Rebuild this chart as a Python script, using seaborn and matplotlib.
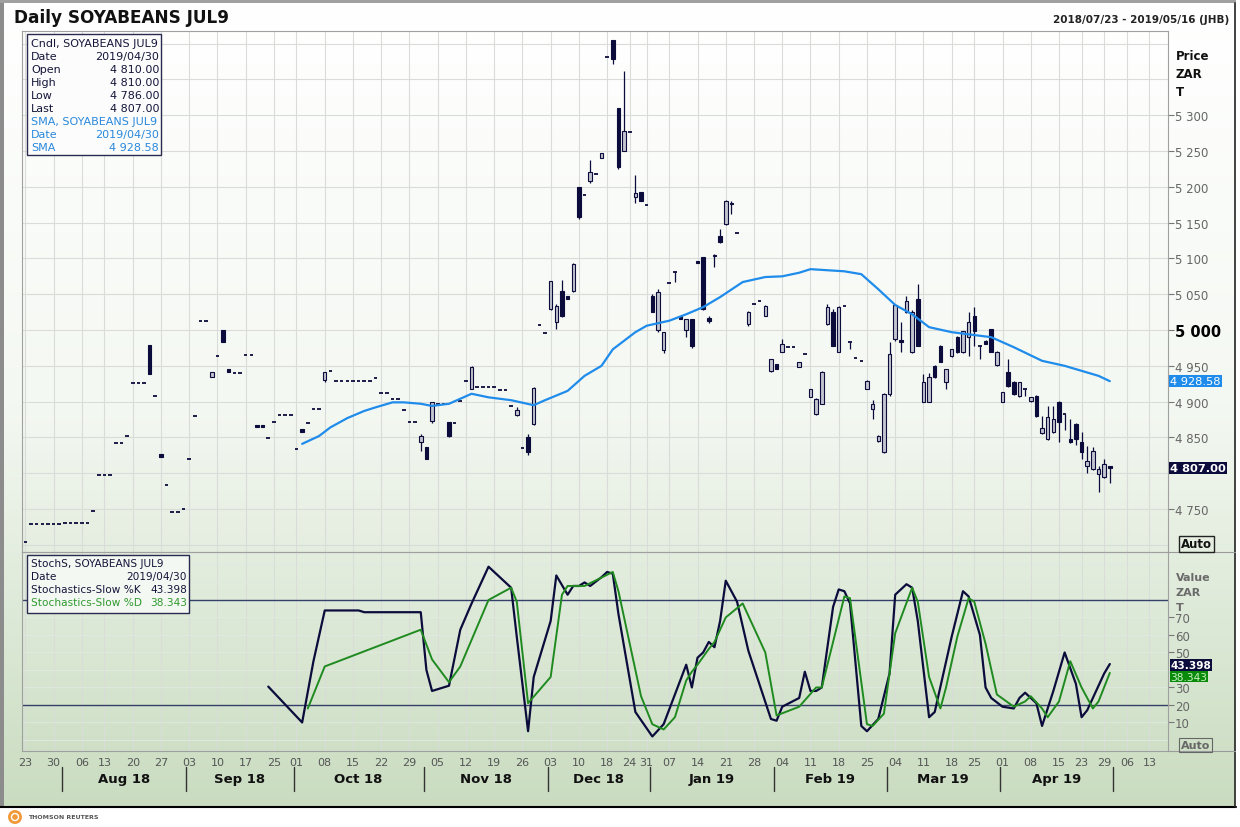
# Daily SOYABEANS JUL9 - candles, SMA and slow stochastics

import numpy as np
import pandas as pd
import matplotlib
matplotlib.use("Agg")
import matplotlib.pyplot as plt
import matplotlib.transforms as mtrans
from matplotlib.colors import LinearSegmentedColormap
from matplotlib.patches import Rectangle, Circle
import seaborn as sns

# TRADING CALENDAR (JSE)

holidays = ["2018-08-09", "2018-09-24", "2018-12-17", "2018-12-25", "2018-12-26",
            "2019-01-01", "2019-03-21", "2019-04-19", "2019-04-22", "2019-05-01",
            "2019-05-08"]
days = pd.bdate_range("2018-07-23", "2019-05-16")
days = days[~days.isin(pd.to_datetime(holidays))]

# DATA (trading-day index, no trade on day 127)

cndl_day = list(range(0, 127)) + list(range(128, 193))

cndl_open = [
    4704, 4729, 4729, 4729, 4729, 4729, 4729, 4731, 4731, 4731,
    4731, 4731, 4747, 4797, 4797, 4797, 4842, 4842, 4852, 4926,
    4926, 4926, 4979, 4908, 4827, 4783, 4746, 4746, 4750, 4820,
    4880, 5012, 5012, 4934, 4964, 5000, 4946, 4940, 4940, 4965,
    4965, 4868, 4868, 4849, 4871, 4881, 4881, 4881, 4834, 4862,
    4870, 4890, 4890, 4930, 4943, 4929, 4929, 4929, 4929, 4929,
    4929, 4929, 4933, 4912, 4912, 4904, 4904, 4888, 4871, 4871,
    4844, 4837, 4873, 4897, 4897, 4872, 4870, 4901, 4929, 4918,
    4920, 4920, 4920, 4920, 4916, 4916, 4894, 4881, 4835, 4851,
    4869, 5007, 4996, 5029, 5011, 5055, 5048, 5054, 5200, 5189,
    5208, 5218, 5240, 5381, 5405, 5310, 5250, 5277, 5186, 5193,
    5175, 5048, 5000, 4972, 5066, 5081, 5020, 5000, 5015, 5097,
    5102, 5017, 5105, 5131, 5148, 5178, 5135,
    5008, 5036, 5040, 5020, 4943, 4952, 4970, 4976, 4976, 4948,
    4966, 4907, 4883, 4897, 5008, 5025, 4970, 5034, 4983, 4961,
    4957, 4918, 4890, 4845, 4830, 4910, 4987, 4986, 5025, 4970,
    5043, 4900, 4900, 4950, 4978, 4927, 4964, 4990, 4969, 4990,
    5020, 4978, 4984, 5001, 4951, 4900, 4941, 4928, 4908, 4917,
    4901, 4908, 4856, 4848, 4858, 4900, 4883, 4848, 4869, 4843,
    4810, 4806, 4799, 4795, 4810]

cndl_high = [
    4704, 4729, 4729, 4729, 4729, 4729, 4729, 4731, 4731, 4731,
    4731, 4731, 4747, 4797, 4797, 4797, 4842, 4842, 4852, 4926,
    4926, 4926, 4979, 4908, 4827, 4783, 4746, 4746, 4750, 4820,
    4880, 5012, 5012, 4942, 4964, 5000, 4946, 4940, 4940, 4965,
    4965, 4868, 4868, 4849, 4871, 4881, 4881, 4881, 4834, 4862,
    4870, 4890, 4890, 4942, 4943, 4929, 4929, 4929, 4929, 4929,
    4929, 4929, 4933, 4912, 4912, 4904, 4904, 4888, 4871, 4871,
    4855, 4837, 4900, 4897, 4897, 4872, 4870, 4901, 4929, 4950,
    4920, 4920, 4920, 4920, 4916, 4916, 4894, 4892, 4835, 4855,
    4920, 5007, 4996, 5068, 5036, 5070, 5048, 5093, 5200, 5189,
    5238, 5218, 5247, 5381, 5405, 5310, 5362, 5277, 5217, 5193,
    5175, 5050, 5057, 4997, 5066, 5081, 5020, 5016, 5016, 5097,
    5102, 5020, 5106, 5141, 5182, 5180, 5135,
    5026, 5036, 5040, 5035, 4960, 4952, 4988, 4976, 4976, 4955,
    4966, 4918, 4905, 4943, 5036, 5030, 5034, 5034, 4983, 4961,
    4957, 4930, 4902, 4854, 4912, 4983, 5037, 5011, 5047, 5028,
    5064, 4938, 4940, 4951, 4979, 4946, 4974, 4991, 4999, 5025,
    5032, 4978, 4986, 5002, 4971, 4914, 4960, 4929, 4928, 4917,
    4907, 4909, 4880, 4894, 4894, 4901, 4883, 4876, 4870, 4858,
    4838, 4836, 4810, 4820, 4810]

cndl_low = [
    4704, 4729, 4729, 4729, 4729, 4729, 4729, 4731, 4731, 4731,
    4731, 4731, 4747, 4797, 4797, 4797, 4842, 4842, 4852, 4926,
    4926, 4926, 4939, 4908, 4822, 4783, 4746, 4746, 4750, 4820,
    4880, 5012, 5012, 4934, 4964, 4983, 4941, 4940, 4940, 4965,
    4965, 4864, 4864, 4849, 4871, 4881, 4881, 4881, 4834, 4858,
    4870, 4890, 4890, 4927, 4943, 4929, 4929, 4929, 4929, 4929,
    4929, 4929, 4933, 4912, 4912, 4904, 4904, 4888, 4871, 4871,
    4831, 4820, 4870, 4897, 4897, 4850, 4870, 4901, 4929, 4917,
    4920, 4920, 4920, 4920, 4916, 4916, 4894, 4880, 4835, 4826,
    4868, 5007, 4996, 5028, 5002, 5018, 5044, 5053, 5155, 5189,
    5206, 5218, 5240, 5381, 5372, 5225, 5250, 5277, 5178, 5180,
    5175, 5025, 4997, 4968, 5066, 5067, 5016, 4990, 4975, 5093,
    5028, 5010, 5088, 5122, 5147, 5162, 5135,
    5006, 5036, 5040, 5019, 4942, 4945, 4969, 4976, 4976, 4948,
    4966, 4906, 4882, 4896, 5007, 4977, 4969, 5034, 4973, 4961,
    4957, 4917, 4876, 4843, 4828, 4908, 4985, 4969, 5024, 4968,
    4977, 4899, 4899, 4933, 4955, 4918, 4963, 4968, 4968, 4964,
    4978, 4959, 4980, 4969, 4950, 4899, 4921, 4909, 4907, 4908,
    4900, 4879, 4855, 4846, 4856, 4844, 4860, 4842, 4840, 4820,
    4800, 4805, 4774, 4794, 4786]

cndl_close = [
    4704, 4729, 4729, 4729, 4729, 4729, 4729, 4731, 4731, 4731,
    4731, 4731, 4747, 4797, 4797, 4797, 4842, 4842, 4852, 4926,
    4926, 4926, 4939, 4908, 4822, 4783, 4746, 4746, 4750, 4820,
    4880, 5012, 5012, 4942, 4964, 4983, 4941, 4940, 4940, 4965,
    4965, 4864, 4864, 4849, 4871, 4881, 4881, 4881, 4834, 4858,
    4870, 4890, 4890, 4941, 4943, 4929, 4929, 4929, 4929, 4929,
    4929, 4929, 4933, 4912, 4912, 4904, 4904, 4888, 4871, 4871,
    4852, 4820, 4900, 4897, 4897, 4852, 4870, 4901, 4929, 4948,
    4920, 4920, 4920, 4920, 4916, 4916, 4894, 4888, 4835, 4830,
    4919, 5007, 4996, 5068, 5034, 5020, 5044, 5092, 5158, 5189,
    5220, 5218, 5247, 5381, 5378, 5228, 5278, 5277, 5191, 5180,
    5175, 5025, 5053, 4997, 5066, 5081, 5016, 5015, 4978, 5093,
    5030, 5013, 5104, 5123, 5180, 5176, 5135,
    5025, 5036, 5040, 5034, 4959, 4945, 4980, 4976, 4976, 4955,
    4966, 4918, 4904, 4942, 5032, 4978, 5032, 5034, 4983, 4961,
    4957, 4929, 4897, 4852, 4910, 4966, 5035, 4983, 5040, 5025,
    4978, 4928, 4935, 4934, 4956, 4945, 4973, 4970, 4998, 5011,
    4999, 4978, 4980, 4970, 4970, 4913, 4922, 4910, 4927, 4917,
    4906, 4880, 4863, 4878, 4876, 4871, 4883, 4843, 4848, 4830,
    4817, 4831, 4806, 4813, 4807]

sma_day = [49, 52, 54, 57, 60, 62, 65, 67, 70, 72,
           75, 79, 82, 86, 90, 92, 96, 99, 102, 104,
           108, 110, 114, 117, 120, 123, 127, 131, 134, 137,
           139, 145, 148, 151, 154, 157, 160, 164, 167, 171,
           175, 180, 184, 187, 190, 192]
sma_value = [4841, 4852, 4864, 4877, 4887, 4892, 4899, 4899, 4897, 4894,
             4897, 4911, 4906, 4902, 4895, 4902, 4915, 4936, 4950, 4973,
             4997, 5006, 5013, 5022, 5032, 5046, 5067, 5074, 5075, 5080,
             5085, 5082, 5078, 5057, 5035, 5022, 5004, 4997, 4994, 4990,
             4976, 4957, 4950, 4943, 4936, 4928.58]

k_day = [43, 49, 51, 53, 59, 60, 70, 71, 72, 75,
         77, 79, 82, 86, 87, 89, 90, 93, 94, 96,
         97, 98, 99, 100, 102, 103, 104, 105, 108, 111,
         113, 117, 118, 119, 120, 121, 122, 123, 124, 126,
         128, 132, 133, 134, 137, 138, 139, 140, 141, 143,
         144, 145, 146, 148, 149, 151, 153, 154, 156, 157,
         158, 160, 161, 164, 166, 167, 169, 170, 171, 173,
         175, 176, 177, 179, 180, 182, 184, 186, 187, 188,
         191, 192]
k_value = [30.5, 10, 45, 74, 74, 73, 73, 40, 28, 31,
           63, 78, 99, 87, 59, 5, 36, 68, 94, 83,
           88, 88, 90, 88, 93, 96, 95, 72, 16, 2,
           9, 43, 30, 47, 50, 56, 53, 68, 91, 79,
           51, 12, 11, 19, 24, 39, 28, 28, 30, 76,
           86, 85, 78, 8, 5, 12, 38, 83, 89, 87,
           68, 13, 16, 59, 85, 82, 60, 30, 24, 19,
           18, 24, 27, 21, 8, 28, 50, 32, 13, 17,
           38, 43.398]

d_day = [50, 53, 70, 72, 75, 77, 82, 86, 87, 89,
         93, 95, 96, 99, 104, 105, 109, 111, 113, 115,
         117, 118, 119, 121, 122, 124, 127, 131, 133, 137,
         140, 141, 145, 146, 149, 150, 152, 154, 157, 158,
         160, 162, 163, 165, 167, 168, 170, 172, 175, 177,
         178, 180, 181, 183, 185, 187, 189, 190, 192]
d_value = [18, 42, 63, 46, 33, 42, 80, 87, 79, 21,
           36, 83, 88, 88, 96, 85, 25, 9, 6, 13,
           34, 39, 43, 52, 56, 70, 78, 50, 14, 19,
           30, 30, 82, 81, 9, 8, 15, 61, 87, 79,
           36, 18, 30, 59, 81, 79, 55, 26, 19, 22,
           25, 18, 13, 22, 45, 30, 18, 22, 38.343]

price_ticks = list(range(4750, 5301, 50))
stoch_ticks = [10, 20, 30, 50, 60, 70]

# STYLE

sns.set_style("white")
plt.rcParams['font.family'] = ['DejaVu Sans']

NAVY = '#0c0c3c'
SMA_BLUE = '#1f8ceb'
GREEN = '#1f8a1f'
GRID = '#d9dcd9'


def fmt(v, nd=2):
    return f"{v:,.{nd}f}".replace(",", " ")


W, H = 1240, 828
fig = plt.figure(figsize=(W / 100, H / 100), dpi=100)


def px_axes(x0, y0, x1, y1, **kw):
    return fig.add_axes([x0 / W, 1 - y1 / H, (x1 - x0) / W, (y1 - y0) / H], **kw)


ax_bg = fig.add_axes([0, 0, 1, 1], zorder=0)
ax = px_axes(22, 32, 1168, 553, zorder=2)
ax2 = px_axes(22, 553, 1168, 752, zorder=2)
ax_fg = fig.add_axes([0, 0, 1, 1], zorder=5)

# background gradient + frame
grad = np.linspace(0, 1, 256).reshape(-1, 1)
cmap = LinearSegmentedColormap.from_list("bg", ["#ffffff", "#f4f8f2", "#c9dcc0"])
ax_bg.imshow(grad, extent=[4, 1235, 808, 4], aspect='auto', cmap=cmap)
ax_bg.set_xlim(0, W)
ax_bg.set_ylim(H, 0)
ax_bg.axis('off')

ax_fg.set_xlim(0, W)
ax_fg.set_ylim(H, 0)
ax_fg.axis('off')
ax_fg.patch.set_alpha(0)

ax_fg.add_patch(Rectangle((0, 0), 4, 808, fc='#8c8c8c', ec='none'))
ax_fg.add_patch(Rectangle((0, 0), 1236, 4, fc='#a0a0a0', ec='none'))
ax_fg.plot([0, 1236], [808, 808], color='black', lw=1.5)
ax_fg.plot([1235, 1235], [4, 808], color='#222222', lw=1.2)
ax_fg.plot([1168, 1235], [553, 553], color='#9a9a9a', lw=0.8)
ax_fg.plot([1168, 1235], [752, 752], color='#9a9a9a', lw=0.8)

# MAIN PANEL

x = np.array(cndl_day, dtype=float)
o = np.array(cndl_open, dtype=float)
hi = np.array(cndl_high, dtype=float)
lo = np.array(cndl_low, dtype=float)
c = np.array(cndl_close, dtype=float)

ax.set_facecolor('none')
xlim = (-0.6, 202.3)
ax.set_xlim(*xlim)
ax.set_ylim(4690, 5417.6)

week_idx = [i for i in range(len(days))
            if i == 0 or days[i].isocalendar()[1] != days[i - 1].isocalendar()[1]]
week_lab = [days[i].strftime('%d') for i in week_idx]
month_idx = [i for i in range(1, len(days)) if days[i].month != days[i - 1].month]

ax.vlines(week_idx, 4690, 5417.6, color=GRID, lw=0.8, zorder=1)
ax.hlines(np.arange(4700, 5401, 50), *xlim, color=GRID, lw=0.8, zorder=1)

flat = c == o
down = c < o
body_col = np.where(down, NAVY, '#c2c4d0')
ax.vlines(x, lo, hi, color=NAVY, lw=0.9, zorder=3)
ax.bar(x[~flat], np.abs(c - o)[~flat], bottom=np.minimum(o, c)[~flat], width=0.62,
       color=body_col[~flat], edgecolor=NAVY, linewidth=0.8, zorder=4)
ax.hlines(c[flat], x[flat] - 0.32, x[flat] + 0.32, color=NAVY, lw=1.3, zorder=4)

sns.lineplot(x=sma_day, y=sma_value, ax=ax, color=SMA_BLUE, linewidth=1.6,
             legend=False, zorder=5)

ax.set_xlabel('')
ax.set_ylabel('')
ax.yaxis.tick_right()
# the 4 800 label sits under the last-price box, as in the source
ax.set_yticks(price_ticks, labels=['' if v == 4800 else fmt(v, 0) for v in price_ticks])
ax.tick_params(axis='y', direction='out', length=4, width=0.8, color='#777777',
               labelsize=8.5, labelcolor='#666666', pad=1)
ax.tick_params(axis='x', bottom=False, labelbottom=False)
for lab in ax.get_yticklabels():
    if lab.get_text() == '5 000':
        lab.set_fontweight('bold')
        lab.set_fontsize(10.5)
        lab.set_color('black')
for s in ax.spines.values():
    s.set_color('#a0a0a0')
    s.set_linewidth(0.8)

yb = mtrans.blended_transform_factory(ax.transAxes, ax.transData)
ax.text(1.002, sma_value[-1], fmt(sma_value[-1]), transform=yb, ha='left', va='center',
        fontsize=8.2, color='white',
        bbox=dict(boxstyle='square,pad=0.08', fc=SMA_BLUE, ec='none'))
ax.text(1.002, c[-1], fmt(c[-1]), transform=yb, ha='left', va='center',
        fontsize=8.2, color='white', fontweight='bold',
        bbox=dict(boxstyle='square,pad=0.08', fc=NAVY, ec='none'))

# STOCHASTICS PANEL

ax2.set_facecolor('none')
ax2.set_xlim(*xlim)
ax2.set_ylim(-6.3, 107.4)
ax2.vlines(week_idx, -6.3, 107.4, color=GRID, lw=0.8, zorder=1)
ax2.hlines(np.arange(0, 101, 10), *xlim, color='#e2e8e0', lw=0.6, zorder=1)
ax2.hlines([80, 20], *xlim, color='#34406a', lw=1.0, zorder=2)

sns.lineplot(x=k_day, y=k_value, ax=ax2, color=NAVY, linewidth=1.6, legend=False, zorder=4)
sns.lineplot(x=d_day, y=d_value, ax=ax2, color=GREEN, linewidth=1.4, legend=False, zorder=5)

ax2.set_xlabel('')
ax2.set_ylabel('')
ax2.yaxis.tick_right()
ax2.set_yticks(stoch_ticks, labels=[str(v) for v in stoch_ticks])
ax2.tick_params(axis='y', direction='out', length=4, width=0.8, color='#777777',
                labelsize=8.5, labelcolor='#666666', pad=1)
ax2.set_xticks(week_idx, labels=week_lab)
ax2.tick_params(axis='x', direction='out', length=3, width=0.8, color='#666666',
                labelsize=8, labelcolor='#555555', pad=1)
for s in ax2.spines.values():
    s.set_color('#a0a0a0')
    s.set_linewidth(0.8)

# value boxes pushed apart a little so they do not cover each other
yb2 = mtrans.blended_transform_factory(ax2.transAxes, ax2.transData)
k_tr = mtrans.offset_copy(yb2, fig=fig, y=-1, units='dots')
d_tr = mtrans.offset_copy(yb2, fig=fig, y=-4, units='dots')
ax2.text(1.002, k_value[-1], f"{k_value[-1]:.3f}", transform=k_tr, ha='left', va='center',
         fontsize=7.6, color='white', fontweight='bold',
         bbox=dict(boxstyle='square,pad=0.05', fc=NAVY, ec='none'))
ax2.text(1.002, d_value[-1], f"{d_value[-1]:.3f}", transform=d_tr, ha='left', va='center',
         fontsize=7.6, color='#c8f5c0',
         bbox=dict(boxstyle='square,pad=0.05', fc='#0a8a0a', ec='none'))

# month labels and separators
xb = mtrans.blended_transform_factory(ax2.transData, ax2.transAxes)
for m0, m1 in zip(month_idx, month_idx[1:]):
    ax2.text((m0 + m1 - 1) / 2, -0.137, days[m0].strftime('%b %y'), transform=xb,
             ha='center', va='center', fontsize=9.5, fontweight='bold', color='#111111')
for m in month_idx:
    ax2.plot([m - 0.5, m - 0.5], [-0.08, -0.2], transform=xb, clip_on=False,
             color='#333333', lw=1)

# TEXTS, LEGENDS

ax_fg.text(14, 18, "Daily SOYABEANS JUL9", fontsize=12.2, fontweight='bold',
           va='center', color='#111111')
ax_fg.text(1229, 20, f"{days[0]:%Y/%m/%d} - {days[-1]:%Y/%m/%d} (JHB)", ha='right',
           va='center', fontsize=7.5, fontweight='bold', color='#222222')

for yy, t in zip([57, 74, 92], ["Price", "ZAR", "T"]):
    ax_fg.text(1176, yy, t, fontsize=8.5, fontweight='bold', va='center', color='#111111')
for yy, t in zip([578, 593, 608], ["Value", "ZAR", "T"]):
    ax_fg.text(1176, yy, t, fontsize=8, fontweight='bold', va='center', color='#6a6a6a')

ax_fg.text(1181, 545, "Auto", fontsize=8.5, fontweight='bold', va='center', color='#111111',
           bbox=dict(boxstyle='square,pad=0.15', fc='none', ec='#222222', lw=1))
ax_fg.text(1181, 746, "Auto", fontsize=8, fontweight='bold', va='center', color='#666666',
           bbox=dict(boxstyle='square,pad=0.15', fc='none', ec='#666666', lw=0.8))

last_date = days[cndl_day[-1]].strftime('%Y/%m/%d')
DARK = '#15153a'
BLUE_T = '#2a88dc'
rows = [("Cndl, SOYABEANS JUL9", "", DARK),
        ("Date", last_date, DARK),
        ("Open", fmt(o[-1]), DARK),
        ("High", fmt(hi[-1]), DARK),
        ("Low", fmt(lo[-1]), DARK),
        ("Last", fmt(c[-1]), DARK),
        ("SMA, SOYABEANS JUL9", "", BLUE_T),
        ("Date", last_date, BLUE_T),
        ("SMA", fmt(sma_value[-1]), BLUE_T)]
ax_fg.add_patch(Rectangle((27, 35), 134, 121, fc='#fbfcfb', ec='#2a2a50', lw=1))
for r, (left, right, col) in enumerate(rows):
    yy = 44 + r * 13
    ax_fg.text(31, yy, left, fontsize=8, va='center', color=col)
    ax_fg.text(159, yy, right, fontsize=8, va='center', ha='right', color=col)

rows2 = [("StochS, SOYABEANS JUL9", "", DARK),
         ("Date", last_date, DARK),
         ("Stochastics-Slow %K", f"{k_value[-1]:.3f}", DARK),
         ("Stochastics-Slow %D", f"{d_value[-1]:.3f}", '#2f9a2f')]
ax_fg.add_patch(Rectangle((27, 556), 162, 58, fc='#f4f8f2', ec='#2a2a50', lw=1))
for r, (left, right, col) in enumerate(rows2):
    yy = 564 + r * 13
    ax_fg.text(31, yy, left, fontsize=7.6, va='center', color=col)
    ax_fg.text(187, yy, right, fontsize=7.6, va='center', ha='right', color=col)

# logo
ax_fg.add_patch(Circle((15, 818), 7, fc='#f29a3a', ec='none'))
ax_fg.add_patch(Circle((15, 818), 3.5, fc='none', ec='white', lw=1))
ax_fg.text(28, 818, "THOMSON REUTERS", fontsize=4.5, fontweight='bold', va='center',
           color='#555555')

plt.savefig("out.png", dpi=100)
